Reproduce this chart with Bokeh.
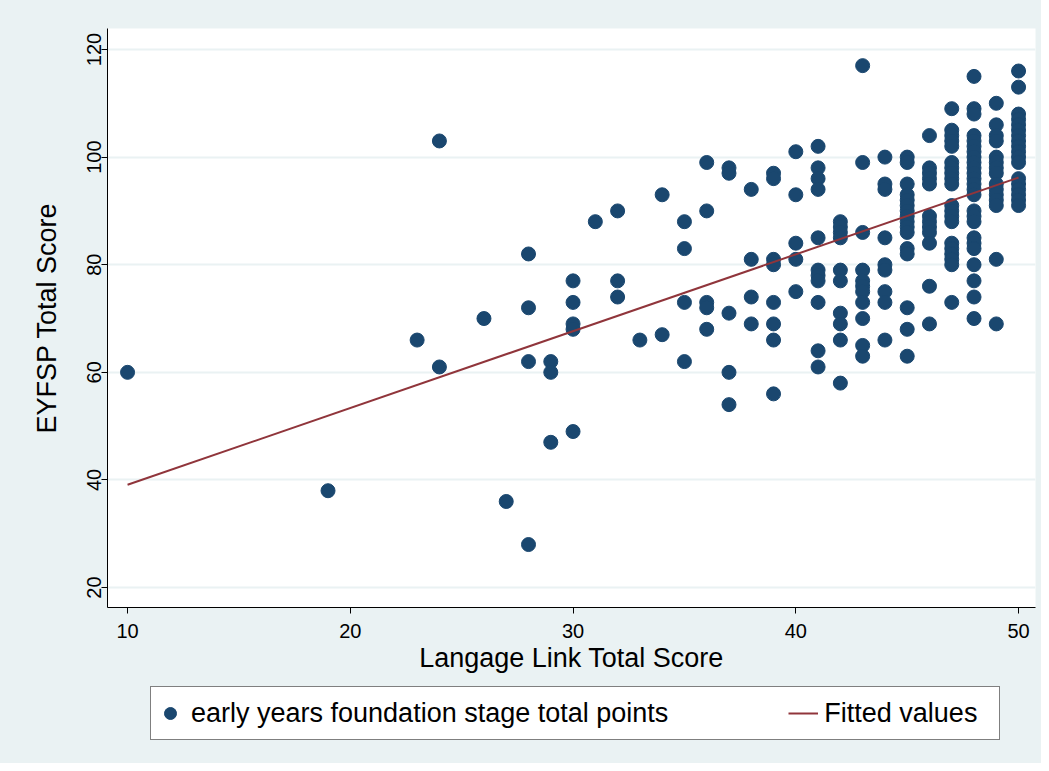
from bokeh.plotting import figure
from bokeh.layouts import column
from bokeh.models import Range1d, FixedTicker, Legend, LegendItem, ColumnDataSource
from bokeh.embed import file_html
from bokeh.resources import INLINE

# Language Link total score (x) and EYFSP total score (y)
language_link = (
    [10] + [19] + [23] + [24] * 2 + [26] + [27] + [28] * 4 + [29] * 3 + [30] * 5 +
    [31] + [32] * 3 + [33] + [34] * 2 + [35] * 4 + [36] * 5 + [37] * 5 + [38] * 4 +
    [39] * 8 + [40] * 5 + [41] * 11 + [42] * 10 + [43] * 11 + [44] * 9 + [45] * 16 +
    [46] * 12 + [47] * 20 + [48] * 25 + [49] * 15 + [50] * 18
)
eyfsp_total = (
    [60] +
    [38] +
    [66] +
    [103, 61] +
    [70] +
    [36] +
    [82, 72, 62, 28] +
    [62, 60, 47] +
    [77, 73, 69, 68, 49] +
    [88] +
    [90, 77, 74] +
    [66] +
    [93, 67] +
    [88, 83, 73, 62] +
    [99, 90, 73, 72, 68] +
    [98, 97, 71, 60, 54] +
    [94, 81, 74, 69] +
    [97, 96, 81, 80, 73, 69, 66, 56] +
    [101, 93, 84, 81, 75] +
    [102, 98, 96, 94, 85, 79, 78, 77, 73, 64, 61] +
    [88, 87, 86, 85, 79, 77, 71, 69, 66, 58] +
    [117, 99, 86, 79, 77, 76, 75, 73, 70, 65, 63] +
    [100, 95, 94, 85, 80, 79, 75, 73, 66] +
    [100, 99, 95, 93, 92, 91, 90, 89, 88, 87, 86, 83, 82, 72, 68, 63] +
    [104, 98, 97, 96, 95, 89, 88, 87, 86, 84, 76, 69] +
    [109, 105, 104, 103, 102, 99, 98, 97, 96, 95, 91, 90, 89, 88, 84, 83, 82, 81, 80, 73] +
    [115, 109, 108, 104, 103, 102, 101, 100, 99, 98, 97, 96, 95, 94, 93, 90, 89, 88,
     85, 84, 83, 80, 77, 74, 70] +
    [110, 106, 104, 103, 100, 99, 98, 97, 95, 94, 93, 92, 91, 81, 69] +
    [116, 113, 108, 107, 106, 105, 104, 103, 102, 101, 100, 99, 96, 95, 94, 93, 92, 91]
)
# fitted values (linear fit line), read at its two ends
fitted_x = [10, 50]
fitted_y = [39.1, 96.2]

x_ticks = [10, 20, 30, 40, 50]
y_ticks = [20, 40, 60, 80, 100, 120]

x_title = "Langage Link Total Score"
y_title = "EYFSP Total Score"
label_points = "early years foundation stage total points"
label_fit = "Fitted values"

NAVY = "#1A476F"
MAROON = "#90353B"
BG = "#EAF2F3"
FONT = "Liberation Sans"
TITLE_SIZE = "27px"

p = figure(width=1041, height=680, output_backend="svg", toolbar_location=None,
           x_range=Range1d(9.1, 50.76), y_range=Range1d(16.3, 123.9),
           min_border_left=107, min_border_right=6, min_border_top=28,
           min_border_bottom=73)
p.background_fill_color = "white"
p.border_fill_color = BG
p.outline_line_color = None

p.xgrid.visible = False
p.ygrid.grid_line_color = BG
p.ygrid.grid_line_width = 2
p.ygrid.ticker = FixedTicker(ticks=y_ticks)

p.xaxis.ticker = FixedTicker(ticks=x_ticks)
p.yaxis.ticker = FixedTicker(ticks=y_ticks)
for ax in (p.xaxis[0], p.yaxis[0]):
    ax.axis_line_color = "black"
    ax.axis_line_width = 1
    ax.major_tick_line_color = "black"
    ax.major_tick_out = 6
    ax.major_tick_in = 0
    ax.minor_tick_line_color = None
    ax.major_label_text_font = FONT
    ax.major_label_text_font_size = "20px"
    ax.major_label_text_color = "black"
    ax.axis_label_text_font = FONT
    ax.axis_label_text_font_size = TITLE_SIZE
    ax.axis_label_text_font_style = "normal"
    ax.axis_label_text_color = "black"
p.xaxis.axis_label = x_title
p.yaxis.axis_label = y_title
p.yaxis.major_label_orientation = "vertical"
p.xaxis.major_label_standoff = 10
p.xaxis.axis_label_standoff = 2
p.yaxis.major_label_standoff = 0
p.yaxis.axis_label_standoff = 23

src = ColumnDataSource(dict(x=language_link, y=eyfsp_total))
p.scatter("x", "y", source=src, size=14, fill_color=NAVY, line_color=NAVY)
p.line(fitted_x, fitted_y, line_color=MAROON, line_width=2)

# legend strip below the graph: the same series drawn again, but out of view,
# so that the legend can show their keys
lg = figure(width=1041, height=83, output_backend="svg", toolbar_location=None,
            x_range=Range1d(0, 1), y_range=Range1d(0, 1),
            x_axis_location=None, y_axis_location=None,
            min_border_left=107, min_border_right=6, min_border_top=0,
            min_border_bottom=0)
lg.grid.visible = False
lg.outline_line_color = None
lg.background_fill_color = BG
lg.border_fill_color = BG
k1 = lg.scatter("x", "y", source=src, size=14, fill_color=NAVY, line_color=NAVY)
k2 = lg.line(fitted_x, fitted_y, line_color=MAROON, line_width=2)

legend = Legend(items=[LegendItem(label=label_points, renderers=[k1]),
                       LegendItem(label=label_fit, renderers=[k2])],
                orientation="horizontal", location=(43, 23))
legend.border_line_color = "black"
legend.border_line_width = 1
legend.background_fill_color = "white"
legend.background_fill_alpha = 1
legend.label_text_font = FONT
legend.label_text_font_size = TITLE_SIZE
legend.label_text_color = "black"
legend.glyph_width = 30
legend.glyph_height = 44
legend.label_height = 44
legend.padding = 4
legend.spacing = 120
legend.label_standoff = 6
legend.label_width = 171
legend.margin = 0
lg.add_layout(legend, "center")

layout = column(p, lg, spacing=0, styles={"background-color": BG})
open("out.html", "w").write(file_html(layout, INLINE))
